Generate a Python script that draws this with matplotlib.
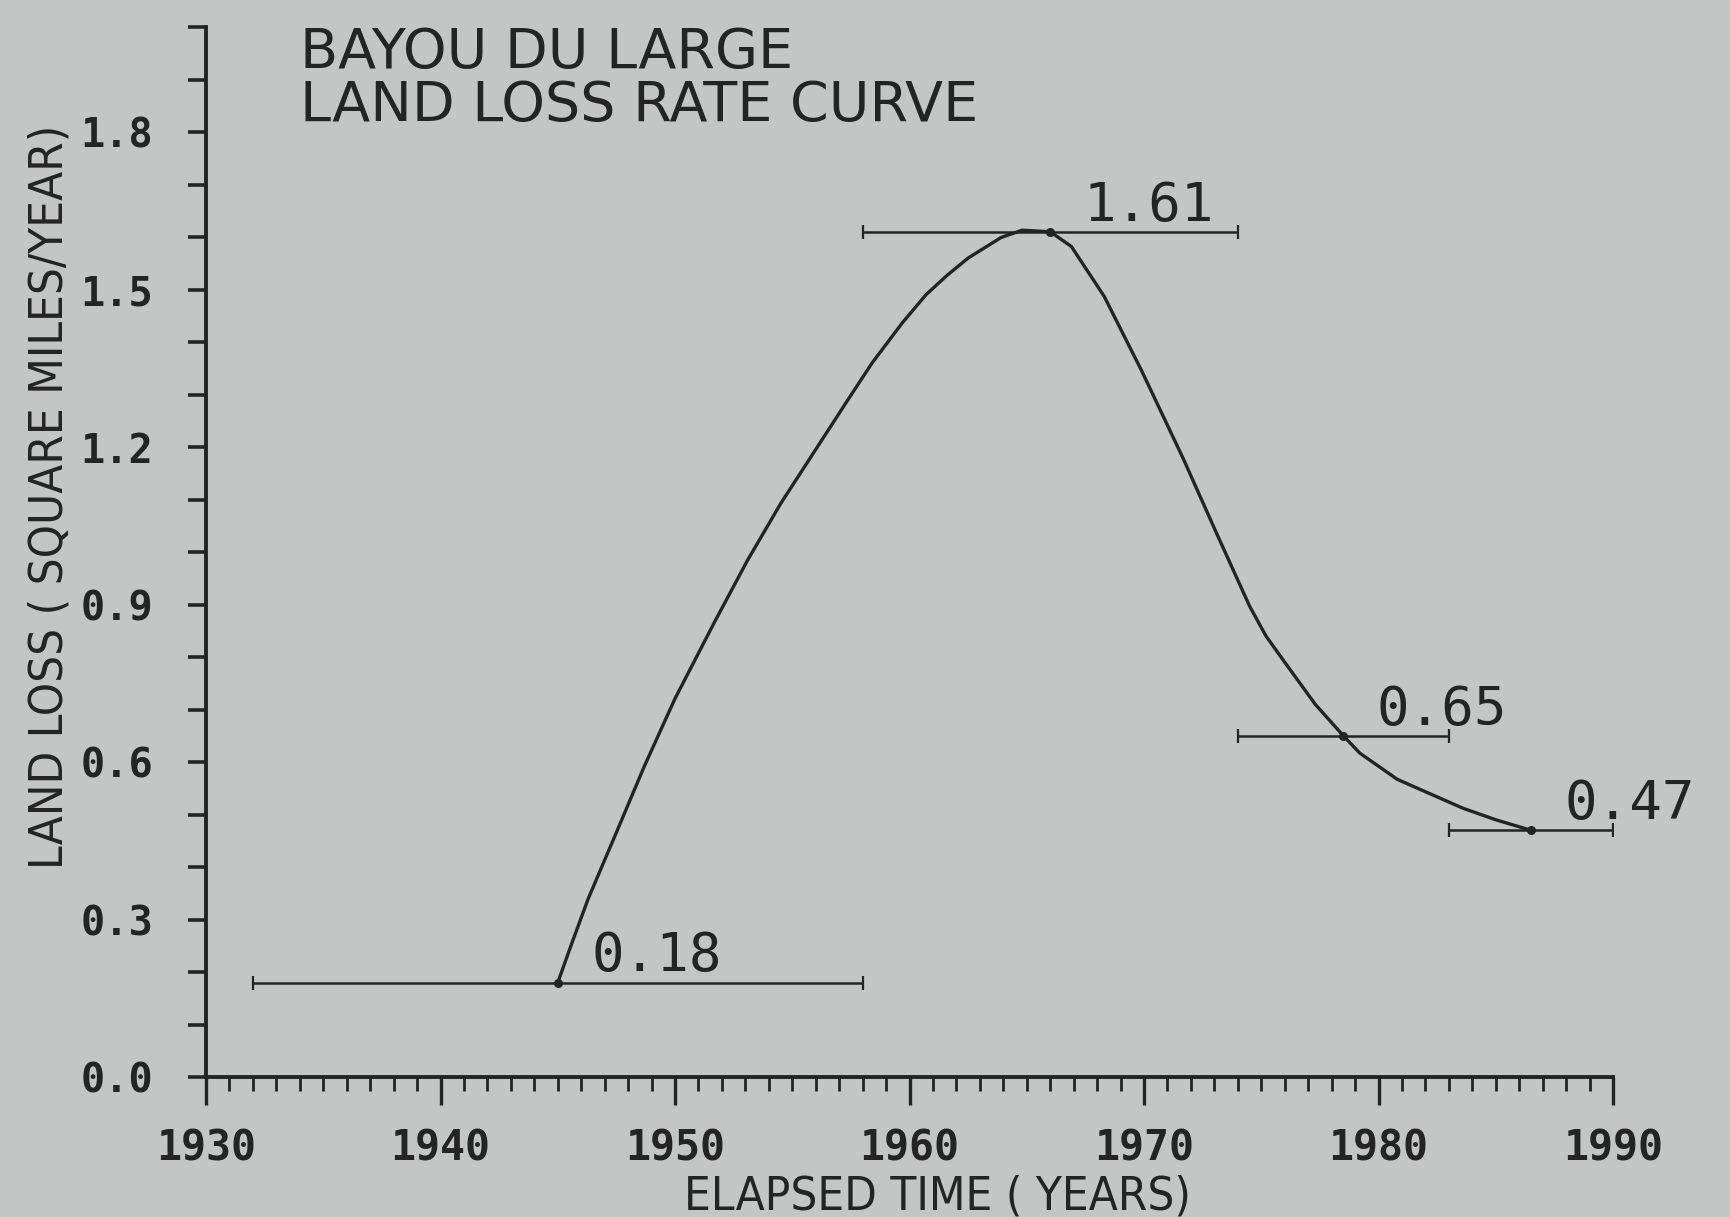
import matplotlib
matplotlib.use("Agg")
import matplotlib.pyplot as plt
from matplotlib.ticker import MultipleLocator, FormatStrFormatter

# Measured land loss rates (mid year of each photo interval)
point_years = [1945, 1966, 1978.5, 1986.5]
point_values = [0.18, 1.61, 0.65, 0.47]
point_labels = ["0.18", "1.61", "0.65", "0.47"]
# photo intervals each rate was measured over
interval_start = [1932, 1958, 1974, 1983]
interval_end = [1958, 1974, 1983, 1990]

# hand drawn rate curve
curve_years = [1945, 1945.6, 1946.3, 1947.5, 1948.7, 1950.0, 1951.7, 1953.1,
               1954.5, 1957.3, 1958.4, 1959.7, 1960.7, 1961.6, 1962.5, 1963.9,
               1964.8, 1966, 1966.9, 1968.3, 1969.9, 1971.65, 1973.1, 1974.5,
               1975.2, 1976.0, 1977.3, 1978.5, 1979.2, 1980.8, 1983.6, 1985.0,
               1986.5]
curve_values = [0.18, 0.255, 0.34, 0.466, 0.593, 0.721, 0.868, 0.985,
                1.092, 1.285, 1.36, 1.437, 1.49, 1.527, 1.56, 1.599,
                1.613, 1.61, 1.582, 1.487, 1.345, 1.18, 1.035, 0.897,
                0.84, 0.79, 0.71, 0.65, 0.617, 0.567, 0.512, 0.49,
                0.47]

bg = "#c4c5c5"
ink = "#242424"

fig = plt.figure(figsize=(17.3, 12.17), dpi=100, facecolor=bg)
ax = fig.add_axes([0.1191, 0.115, 0.8133, 0.8628], facecolor=bg)

# rate curve
ax.plot(curve_years, curve_values, color=ink, lw=2.4, solid_joinstyle="round",
        solid_capstyle="round")

# interval bars with the measured points
xerr = [[y - s for y, s in zip(point_years, interval_start)],
        [e - y for y, e in zip(point_years, interval_end)]]
ax.errorbar(point_years, point_values, xerr=xerr, fmt="o", color=ink, ms=5.5,
            elinewidth=1.8, capsize=5, capthick=1.6)

for x, y, s in zip(point_years, point_values, point_labels):
    ax.annotate(s, (x, y), xytext=(24, 8), textcoords="offset points",
                ha="left", va="baseline", fontsize=39, color=ink,
                family="DejaVu Sans Mono")

ax.set_xlim(1930, 1990)
ax.set_ylim(0, 2.0)

for side in ["top", "right"]:
    ax.spines[side].set_visible(False)
for side in ["left", "bottom"]:
    ax.spines[side].set_linewidth(2.8)
    ax.spines[side].set_color(ink)

ax.xaxis.set_major_locator(MultipleLocator(10))
ax.xaxis.set_minor_locator(MultipleLocator(1))
ax.yaxis.set_major_locator(MultipleLocator(0.3))
ax.yaxis.set_minor_locator(MultipleLocator(0.1))
ax.yaxis.set_major_formatter(FormatStrFormatter("%.1f"))

ax.tick_params(axis="x", which="major", direction="out", length=20, width=2.4,
               color=ink, pad=16, labelsize=30, labelcolor=ink)
ax.tick_params(axis="x", which="minor", direction="out", length=10, width=2.0,
               color=ink)
ax.tick_params(axis="y", which="both", direction="out", length=13, width=2.6,
               color=ink, pad=25, labelsize=29, labelcolor=ink)
for lab in ax.get_xticklabels() + ax.get_yticklabels():
    lab.set_family("DejaVu Sans Mono")
    lab.set_weight("bold")

# titles and axis labels
fig.text(0.1734, 0.944, "BAYOU DU LARGE", fontsize=40, color=ink,
         va="baseline", ha="left")
fig.text(0.1734, 0.9006, "LAND LOSS RATE CURVE", fontsize=40, color=ink,
         va="baseline", ha="left")
fig.text(0.029, 0.592, "LAND LOSS ( SQUARE MILES/YEAR)", rotation=90,
         fontsize=34, color=ink, va="center", ha="center",
         fontstretch="condensed")
fig.text(0.542, 0.006, "ELAPSED TIME ( YEARS)", fontsize=34, color=ink,
         va="baseline", ha="center", fontstretch="condensed")

fig.savefig("out.png", dpi=100, facecolor=bg)
